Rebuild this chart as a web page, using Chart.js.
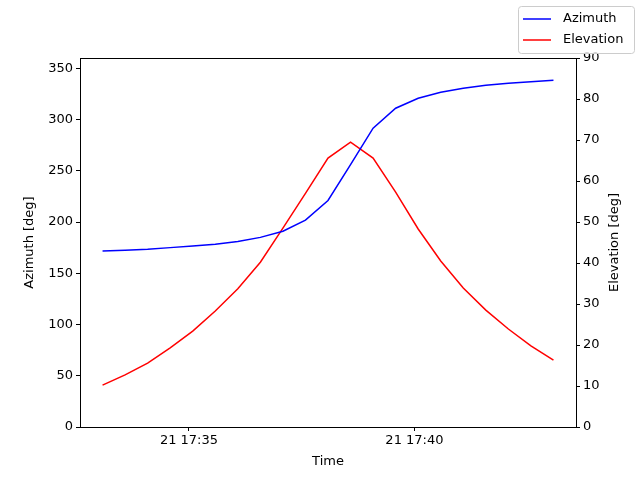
<!DOCTYPE html>
<html>
<head>
<script src="https://cdn.jsdelivr.net/npm/chart.js@4/dist/chart.umd.min.js"></script>
<style>
  html, body { margin: 0; background: #fff; }
  #wrap { width: 640px; height: 480px; }
</style>
</head>
<body>
<div id="wrap"><canvas id="chart"></canvas></div>
<script>
// ===== data =====
// time in seconds since midnight of the 21st, one sample every 30 s from 17:33:05
const startSec = 17 * 3600 + 33 * 60 + 5;
const azimuth = [171.6, 172.5, 173.5, 175, 176.5, 178.4, 181, 185, 191, 201.8, 221,
                 256, 291.5, 311, 320.7, 326.6, 330.5, 333.4, 335.4, 336.8, 338.3];
const elevation = [10.2, 12.7, 15.6, 19.3, 23.4, 28.3, 33.7, 40.2, 48.5, 57, 65.6,
                   69.5, 65.6, 57.3, 48.3, 40.5, 33.9, 28.5, 23.9, 19.8, 16.3];
const timeTicks = [17 * 3600 + 35 * 60, 17 * 3600 + 40 * 60];
const azTicks = [0, 50, 100, 150, 200, 250, 300, 350];
const elTicks = [0, 10, 20, 30, 40, 50, 60, 70, 80, 90];

const times = azimuth.map((_, i) => startSec + i * 30);

// ===== helpers =====
function fmtTime(sec) {
    const h = Math.floor(sec / 3600);
    const m = Math.floor((sec % 3600) / 60);
    return `21 ${h}:${String(m).padStart(2, '0')}`;
}

const font = { family: 'DejaVu Sans', size: 13 };
const tickGrid = { display: true, drawOnChartArea: false, drawTicks: true, tickLength: 4, color: '#000', tickColor: '#000' };

// ===== plugins =====
const frameLegend = {
    id: 'frameLegend',
    afterDraw(chart) {
        const ctx = chart.ctx;
        const a = chart.chartArea;
        ctx.save();
        ctx.strokeStyle = '#000';
        ctx.lineWidth = 1;
        ctx.strokeRect(a.left + 0.5, a.top + 0.5, a.right - a.left, a.bottom - a.top);

        // axis titles
        ctx.fillStyle = '#000';
        ctx.font = '13px "DejaVu Sans"';
        ctx.textAlign = 'center';
        ctx.textBaseline = 'middle';
        ctx.fillText('Time', (a.left + a.right) / 2, 462);
        [['Azimuth [deg]', 30], ['Elevation [deg]', 615]].forEach(([t, x]) => {
            ctx.save();
            ctx.translate(x, (a.top + a.bottom) / 2);
            ctx.rotate(-Math.PI / 2);
            ctx.fillText(t, 0, 0);
            ctx.restore();
        });

        // legend box
        ctx.strokeStyle = '#ccc';
        ctx.fillStyle = 'rgba(255,255,255,0.8)';
        ctx.beginPath();
        ctx.roundRect(518.5, 6.5, 116, 47, 3);
        ctx.fill();
        ctx.stroke();
        ctx.textAlign = 'left';
        [['Azimuth', 'blue', 19], ['Elevation', 'red', 40]].forEach(([t, c, y]) => {
            ctx.strokeStyle = c;
            ctx.lineWidth = 1.5;
            ctx.beginPath();
            ctx.moveTo(523, y);
            ctx.lineTo(551, y);
            ctx.stroke();
            ctx.fillStyle = '#000';
            ctx.fillText(t, 563, y);
        });
        ctx.restore();
    }
};

// ===== chart =====
new Chart(document.getElementById('chart'), {
    type: 'line',
    data: {
        datasets: [
            {
                label: 'Azimuth',
                data: times.map((t, i) => ({ x: t, y: azimuth[i] })),
                borderColor: 'blue',
                borderWidth: 1.5,
                pointRadius: 0,
                yAxisID: 'y'
            },
            {
                label: 'Elevation',
                data: times.map((t, i) => ({ x: t, y: elevation[i] })),
                borderColor: 'red',
                borderWidth: 1.5,
                pointRadius: 0,
                yAxisID: 'y1'
            }
        ]
    },
    options: {
        responsive: true,
        maintainAspectRatio: false,
        animation: false,
        layout: { padding: { top: 58, right: 6, left: 0, bottom: 0 } },
        plugins: { legend: { display: false }, tooltip: { enabled: false } },
        scales: {
            x: {
                type: 'linear',
                min: startSec - 30,
                max: startSec + 630,
                afterBuildTicks: s => { s.ticks = timeTicks.map(v => ({ value: v })); },
                afterFit: s => { s.height = 53; },
                ticks: { callback: v => fmtTime(v), color: '#000', font, maxRotation: 0, padding: 2 },
                grid: tickGrid,
                border: { display: false }
            },
            y: {
                position: 'left',
                min: 0,
                max: 360,
                afterBuildTicks: s => { s.ticks = azTicks.map(v => ({ value: v })); },
                afterFit: s => { s.width = 80; },
                ticks: { color: '#000', font, padding: 3 },
                grid: tickGrid,
                border: { display: false }
            },
            y1: {
                position: 'right',
                min: 0,
                max: 90,
                afterBuildTicks: s => { s.ticks = elTicks.map(v => ({ value: v })); },
                afterFit: s => { s.width = 58; },
                ticks: { color: '#000', font, padding: 3 },
                grid: tickGrid,
                border: { display: false }
            }
        }
    },
    plugins: [frameLegend]
});
</script>
</body>
</html>
